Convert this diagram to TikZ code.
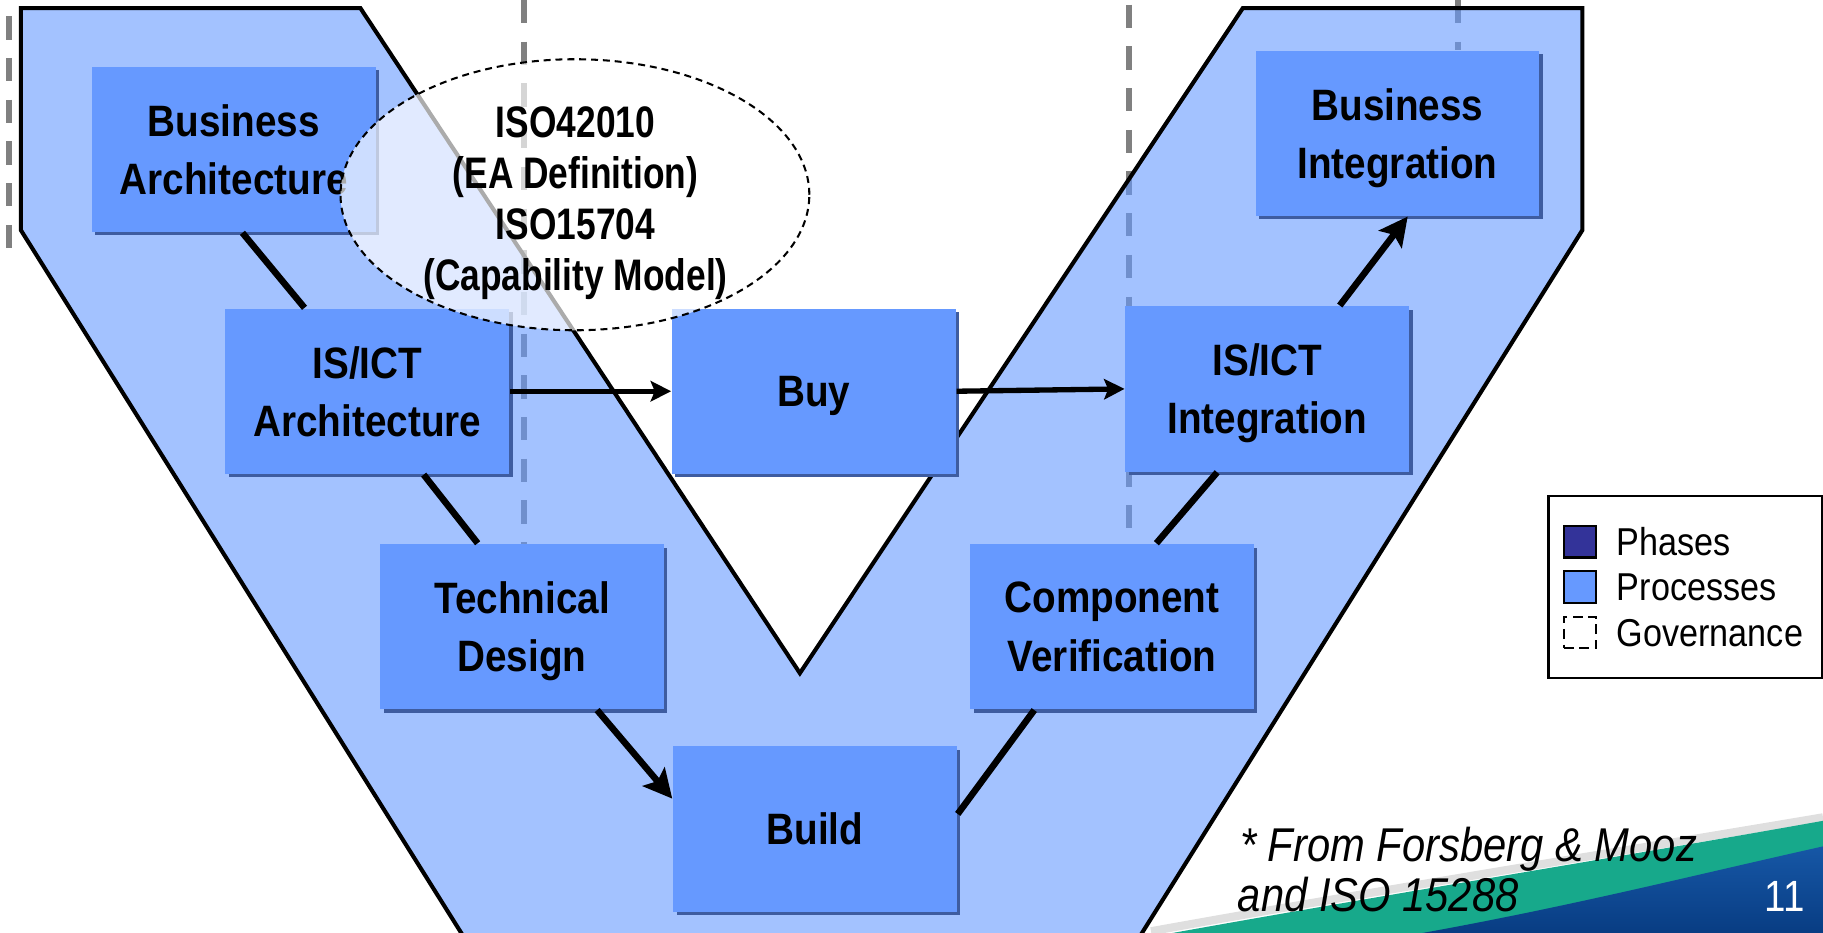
\documentclass[tikz,border=0pt]{standalone}
\usepackage{fontspec}
\setmainfont[FakeStretch=0.88]{Liberation Sans}
\newfontfamily\isofont[FakeStretch=0.80]{Liberation Sans}
\usetikzlibrary{arrows.meta,shapes.geometric,shadows}
\definecolor{procblue}{HTML}{6699FF}
\definecolor{procshadow}{RGB}{62,92,160}
\definecolor{phaseblue}{HTML}{333399}
\definecolor{govgray}{HTML}{808080}
\definecolor{swgreen}{HTML}{17A98B}
\definecolor{swblue}{HTML}{1657A6}
\definecolor{swdark}{HTML}{083C82}

\begin{document}
\begin{tikzpicture}[x=0.01cm,y=-0.01cm,line join=miter]
	\tikzstyle{p-node}=[rectangle,fill=procblue,minimum width=2.44cm,minimum height=1.42cm,inner sep=0pt,align=center,
		text depth=0pt,font=\fontsize{10.75}{14.2}\selectfont\bfseries,
		drop shadow={shadow xshift=0.03cm,shadow yshift=-0.03cm,fill=procshadow,opacity=1}]
	\tikzstyle{c-line}=[-,line width=1.6pt]
	\tikzstyle{c-arrow}=[line width=1.6pt,-{Stealth[length=7pt,width=7pt,inset=1.4pt]}]
	\tikzstyle{h-arrow}=[line width=1.3pt,-{Stealth[length=5pt,width=5pt,inset=1pt]}]
	\tikzstyle{g-line}=[draw=govgray,line width=1.4pt,dash pattern=on 5.7pt off 4.5pt]
	\tikzstyle{l-sq}=[rectangle,draw=black,line width=0.5pt,minimum width=0.28cm,minimum height=0.27cm,inner sep=0pt]
	\tikzstyle{l-text}=[anchor=base west,inner sep=0pt,font=\fontsize{9.5}{11}\selectfont]
	\tikzstyle{n-text}=[anchor=base west,inner sep=0pt,font=\fontsize{11.6}{12}\selectfont\itshape]

	\useasboundingbox (0,0) rectangle (1568,802);
	\clip (0,0) rectangle (1568,802);

	% swoosh
	\draw[gray!25,line width=2pt] (990,801) .. controls (1190,765) and (1390,733) .. (1568,703);
	\fill[swgreen] (1000,804) .. controls (1200,768) and (1400,736) .. (1568,706) -- (1568,804) -- cycle;
	\path[top color=swblue,bottom color=swdark] (1215,804) .. controls (1350,780) and (1460,752) .. (1568,728) -- (1568,804) -- cycle;

	\draw[g-line] (8,14)    -- (8,214);
	\draw[g-line] (450.5,0) -- (450.5,468);
	\draw[g-line] (971,4)   -- (971,468);
	\draw[g-line] (1254,0)  -- (1254,43);

	\draw[fill=procblue,fill opacity=0.6,line width=1pt] (18,7) -- (310,7) -- (688,579) -- (1069,7) -- (1361,7)
		-- (1361,198) -- (965,830) -- (414,830) -- (18,198) -- cycle;

	\node[p-node] 	(busarch)	at (201,128.5)		{Business\\Architecture};
	\node[p-node] 	(isarch)	at (316,336.5)		{IS/ICT\\Architecture};
	\node[p-node] 	(techdes)	at (449,539)		{Technical\\Design};
	\node[p-node] 	(build)		at (701,713)		{Build};

	\node[p-node] 	(buy)		at (700,336.5)		{Buy};

	\node[p-node] 	(compver)	at (956.5,539)		{Component\\Verification};
	\node[p-node] 	(isint)		at (1090,334.5)		{IS/ICT\\Integration};
	\node[p-node] 	(busint)	at (1202,114.5)		{Business\\Integration};

	\draw[c-line]  (busarch.-84) -- (isarch.127);
	\draw[c-line]  (isarch.-56)  -- (techdes.118);
	\draw[c-arrow] (techdes.-48) -- (build.168);
	\draw[c-line]  (build.6)     -- (compver.-133);
	\draw[c-line]  (compver.62)  -- (isint.-121);
	\draw[c-arrow] (isint.49)    -- (busint.-83);
	\draw[h-arrow] (isarch.east) -- (buy.west);
	\draw[h-arrow] (buy.east)    -- (isint.west);

	\node[ellipse,draw,line width=0.5pt,dash pattern=on 1.7pt off 1.2pt,fill=white,fill opacity=0.67,
		minimum width=4.03cm,minimum height=2.33cm,inner sep=0pt] (iso) at (494.5,167.5) {};
	\node[align=center,inner sep=0pt,font=\isofont\fontsize{10.8}{12.5}\selectfont\bfseries] (isotext) at (495,175)
		{ISO42010\\(EA Definition)\\ISO15704\\(Capability Model)};

	\node[draw,line width=0.6pt,minimum width=2.35cm,minimum height=1.565cm,inner sep=0pt] (legend) at (1449.5,504.8) {};
	\node[l-sq,fill=phaseblue] 	(sqphase)	at (1359,466)	{};
	\node[l-text] 			(txtphase)	at (1390,478)	{Phases};
	\node[l-sq,fill=procblue] 	(sqproc)	at (1359,505)	{};
	\node[l-text] 			(txtproc)	at (1390,516.6)	{Processes};
	\node[l-sq,dash pattern=on 2.4pt off 1.4pt] (sqgov) at (1359,544) {};
	\node[l-text] 			(txtgov)	at (1390,556)	{Governance};

	\node[n-text] (note1) at (1066,741) {* From Forsberg \& Mooz};
	\node[n-text] (note2) at (1064,784) {and ISO 15288};
	\node[anchor=base east,inner sep=0pt,text=white,font=\fontsize{10.7}{12}\selectfont] (pagenum) at (1553,784) {11};
\end{tikzpicture}
\end{document}
